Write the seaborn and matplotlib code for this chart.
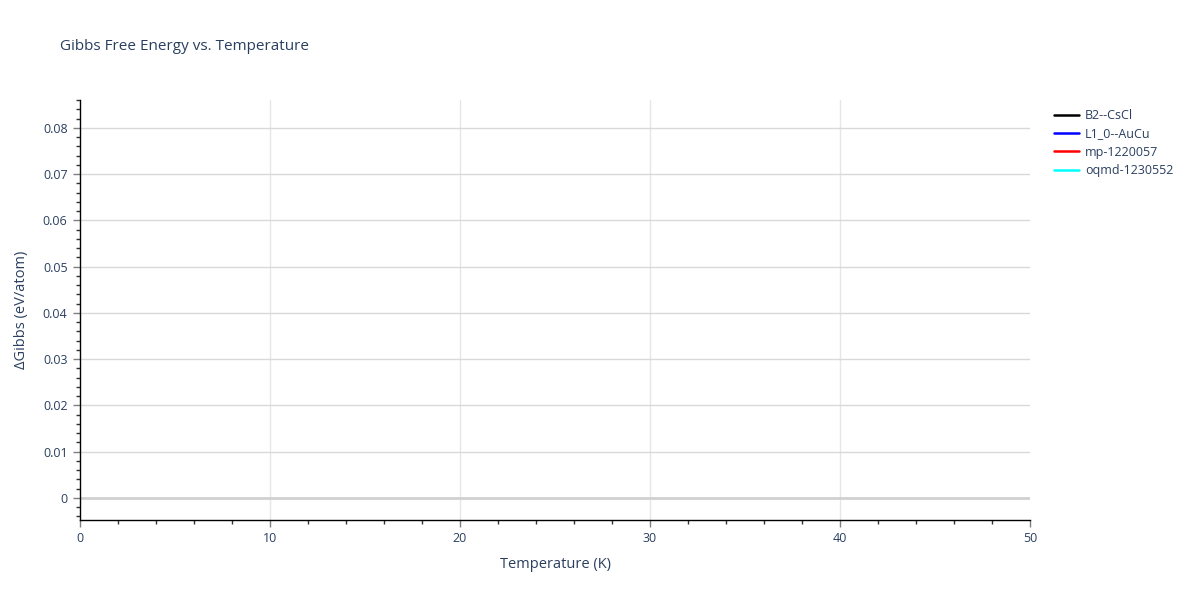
import matplotlib
matplotlib.use("Agg")
import matplotlib.pyplot as plt
from matplotlib.ticker import MultipleLocator
import seaborn as sns
import numpy as np

# Data (series appear empty in the reference: no visible traces)
series_names = ["B2--CsCl", "L1_0--AuCu", "mp-1220057", "oqmd-1230552"]
series_colors = ["black", "blue", "red", "cyan"]
temperature = {name: [] for name in series_names}
delta_gibbs = {name: [] for name in series_names}

x_ticks = [0, 10, 20, 30, 40, 50]
y_ticks = [0, 0.01, 0.02, 0.03, 0.04, 0.05, 0.06, 0.07, 0.08]
y_tick_labels = ["0", "0.01", "0.02", "0.03", "0.04", "0.05", "0.06", "0.07", "0.08"]

sns.set_theme(style="white")
plt.rcParams['font.family'] = ['Open Sans', 'DejaVu Sans']
text_color = "#2a3f5f"

fig = plt.figure(figsize=(12, 6), dpi=100)
ax = fig.add_axes([80/1200, 80/600, 950/1200, 420/600])

for name, color in zip(series_names, series_colors):
    sns.lineplot(x=np.array(temperature[name], dtype=float),
                 y=np.array(delta_gibbs[name], dtype=float),
                 ax=ax, color=color, label=name)
    ax.plot([], [], color=color, label=name, lw=1.8)

ax.set_xlim(0, 50)
ax.set_ylim(-0.00476, 0.08605)

ax.set_xticks(x_ticks)
ax.set_xticklabels([str(t) for t in x_ticks])
ax.set_yticks(y_ticks)
ax.set_yticklabels(y_tick_labels)
ax.xaxis.set_minor_locator(MultipleLocator(2))
ax.yaxis.set_minor_locator(MultipleLocator(0.002))

ax.grid(False)
for t in x_ticks[1:-1]:
    ax.axvline(t, color="#e6e6e6", lw=1, zorder=0)
for t in y_ticks[1:]:
    ax.axhline(t, color="#d9d9d9", lw=1, zorder=0)
ax.axhline(0, color="#d0d0d0", lw=2, zorder=0.5)

for s in ["top", "right"]:
    ax.spines[s].set_visible(False)
for s in ["left", "bottom"]:
    ax.spines[s].set_color("black")
    ax.spines[s].set_linewidth(1)

ax.tick_params(axis="both", which="major", direction="out", length=5, width=1,
               color="#7f7f7f", labelsize=9, labelcolor=text_color, pad=4,
               left=True, bottom=True)
ax.tick_params(axis="both", which="minor", direction="out", length=3, width=1,
               color="#333333", left=True, bottom=True)

ax.set_xlabel("Temperature (K)", fontsize=10.5, color=text_color, labelpad=8)
ax.set_ylabel("ΔGibbs (eV/atom)", fontsize=10.5, color=text_color, labelpad=10)

fig.text(60/1200, 1 - 46/600, "Gibbs Free Energy vs. Temperature", fontsize=11,
         color=text_color, va="center", ha="left")

handles, labels = ax.get_legend_handles_labels()
uniq = {}
for h, l in zip(handles, labels):
    if l not in uniq and hasattr(h, "get_xdata"):
        uniq[l] = h
leg = ax.legend([uniq[n] for n in series_names], series_names,
                loc="upper left", bbox_to_anchor=(1.0205, 0.99), frameon=False,
                fontsize=9, handlelength=2.0, handletextpad=0.45,
                labelspacing=0.42, borderaxespad=0)
for t in leg.get_texts():
    t.set_color(text_color)

fig.savefig("out.png", dpi=100)
